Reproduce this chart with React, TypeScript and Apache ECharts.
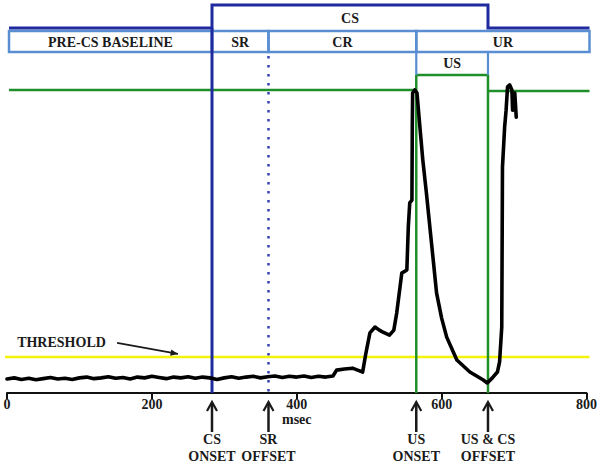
import React, { useEffect, useRef } from 'react';
import * as echarts from 'echarts';

// ---- data ----
const xTicks = [0, 200, 400, 600, 800];
const csOnset = 283;
const srOffset = 361;
const usOnset = 565;
const usOffset = 664;
const thresholdLevel = 9.3;
const ceilingLevel = 78.1;

const phaseLabels = ['PRE-CS BASELINE', 'SR', 'CR', 'UR'];
const phaseBounds = [0, csOnset, srOffset, usOnset, 800];

const eventTimes = [csOnset, srOffset, usOnset, usOffset];
const eventTop = ['CS', 'SR', 'US', 'US & CS'];
const eventBottom = ['ONSET', 'OFFSET', 'ONSET', 'OFFSET'];

const signalTime = [
  0, 10, 20, 30, 40, 50, 60, 70, 80, 90,
  100, 110, 120, 130, 140, 150, 160, 170, 180, 190,
  200, 210, 220, 230, 240, 250, 260, 270, 280, 290,
  300, 310, 320, 330, 340, 350, 360, 370, 380, 390,
  400, 410, 420, 430, 440,
  450, 455, 466, 477, 484, 491, 495, 501, 508, 514, 519, 528, 534, 538, 545, 552, 554, 556, 559, 559.5,
  560, 563, 566, 570, 574, 579, 586, 593, 600, 607, 621, 639, 657, 663, 670, 677, 680, 683, 683.5, 684,
  687, 689, 691, 694, 697, 698, 701, 703,
];
const signalValue = [
  3.6, 3.9, 3.5, 3.8, 3.4, 3.7, 4.0, 3.6, 3.8, 3.5,
  3.9, 4.1, 3.7, 3.9, 4.2, 3.8, 4.0, 3.6, 4.1, 3.9,
  4.3, 4.0, 3.7, 4.1, 3.9, 4.2, 3.8, 4.1, 3.9, 3.5,
  3.9, 4.2, 3.8, 4.1, 4.3, 3.9, 4.2, 4.4, 4.0, 4.3,
  4.1, 4.4, 4.0, 4.3, 4.1,
  4.4, 5.9, 6.2, 6.4, 5.9, 5.4, 9.8, 15.5, 17.0, 16.2, 15.7, 14.9, 16.2, 20.6, 30.9, 31.7, 42.8, 49.0, 49.7, 68.6,
  77.3, 78.1, 77.3, 68.6, 60.1, 51.5, 38.7, 25.8, 19.3, 14.4, 8.5, 5.4, 3.4, 2.6, 3.9, 5.4, 8.0, 17.0, 36.9, 58.2,
  68.6, 72.9, 78.9, 79.4, 78.1, 72.9, 77.3, 71.1,
];

const FONT = "'Liberation Serif', 'Times New Roman', serif";
const NAVY = '#1e2a9e';
const LIGHT = '#5a8ed2';
const GREEN = '#1f8f2a';
const YELLOW = '#f3f30c';
const TEXT = '#1a1a1a';

function renderFrame(params: any, api: any) {
  const X = (v: number) => api.coord([v, 0])[0];
  const Y = (v: number) => api.coord([0, v])[1];
  const axisY = Y(0);
  const top = Y(100);
  const row1 = top + 23;
  const row2Top = top + 26;
  const row2Bot = top + 47;
  const usBot = top + 70;
  const x0 = X(0) + 2;
  const x1 = X(800) + 3;
  const xcs = X(csOnset);
  const xsr = X(srOffset);
  const xus = X(usOnset);
  const xoff = X(usOffset);
  const yc = Y(ceilingLevel);
  const yt = Y(thresholdLevel);
  const font = `bold 14px ${FONT}`;
  const ch: any[] = [];
  const line = (a: number, b: number, c: number, d: number, stroke: string, w: number, dash?: number[]) =>
    ch.push({ type: 'line', shape: { x1: a, y1: b, x2: c, y2: d }, style: { stroke, lineWidth: w, lineDash: dash } });
  const text = (t: string, x: number, y: number, align = 'center') =>
    ch.push({ type: 'text', style: { text: t, x, y, font, fill: TEXT, textAlign: align, textVerticalAlign: 'middle' } });

  // threshold
  line(X(0) - 2, yt, x1, yt, YELLOW, 2.5);
  // green ceiling and US lines
  line(x0, yc, xus, yc, GREEN, 2.5);
  line(xoff, yc + 1, x1, yc + 1, GREEN, 2.5);
  line(xus, usBot, xus, axisY, GREEN, 2.5);
  line(xoff, usBot, xoff, axisY, GREEN, 2.5);
  line(xus, usBot, xoff, usBot, GREEN, 2.5);
  // US box sides
  line(xus, row2Bot, xus, usBot, LIGHT, 2.2);
  line(xoff, row2Bot, xoff, usBot, LIGHT, 2.2);
  text('US', (xus + xoff) / 2, top + 58);
  // phase row
  for (let i = 0; i < phaseLabels.length; i++) {
    const a = i === 0 ? x0 : X(phaseBounds[i]);
    const b = i === phaseLabels.length - 1 ? x1 : X(phaseBounds[i + 1]);
    ch.push({ type: 'rect', shape: { x: a, y: row2Top, width: b - a, height: row2Bot - row2Top }, style: { stroke: LIGHT, fill: 'none', lineWidth: 2.5 } });
    text(phaseLabels[i], (a + b) / 2, (row2Top + row2Bot) / 2 + 1);
  }
  // SR dotted
  line(xsr, row2Bot + 4, xsr, axisY, '#3442b4', 2.5, [2.5, 6.5]);
  // CS outline
  ch.push({ type: 'polyline', shape: { points: [[x0, row1], [xcs, row1], [xcs, top], [xoff, top], [xoff, row1], [x1, row1]] }, style: { stroke: NAVY, lineWidth: 3, fill: 'none' } });
  line(xcs, row1, xcs, axisY, NAVY, 3);
  text('CS', (xcs + xoff) / 2, top + 13);
  // threshold label + arrow
  text('THRESHOLD', X(14), yt - 14, 'left');
  const ax1 = X(152), ay1 = yt - 14, ax2 = X(236), ay2 = yt - 3;
  line(ax1, ay1, ax2, ay2, TEXT, 1.8);
  const ang = Math.atan2(ay2 - ay1, ax2 - ax1);
  const hl = 8;
  ch.push({ type: 'polygon', shape: { points: [[ax2, ay2], [ax2 - hl * Math.cos(ang - 0.4), ay2 - hl * Math.sin(ang - 0.4)], [ax2 - hl * Math.cos(ang + 0.4), ay2 - hl * Math.sin(ang + 0.4)]] }, style: { fill: TEXT } });
  // event arrows
  for (let i = 0; i < eventTimes.length; i++) {
    const ex = X(eventTimes[i]);
    line(ex, axisY + 10, ex, axisY + 39, TEXT, 2.5);
    ch.push({ type: 'polyline', shape: { points: [[ex - 5, axisY + 18], [ex, axisY + 9], [ex + 5, axisY + 18]] }, style: { stroke: TEXT, lineWidth: 2.2, fill: 'none' } });
    text(eventTop[i], ex, axisY + 46);
    text(eventBottom[i], ex, axisY + 63);
  }
  return { type: 'group', children: ch };
}

export default function App() {
  const ref = useRef<HTMLDivElement>(null);
  useEffect(() => {
    const chart = echarts.init(ref.current!, null, { renderer: 'svg' });
    const option: any = {
      animation: false,
      backgroundColor: '#ffffff',
      grid: { left: 7, right: 13, top: 5, bottom: 71, containLabel: false },
      xAxis: {
        type: 'value',
        min: 0,
        max: 800,
        interval: 200,
        axisLine: { lineStyle: { color: '#111', width: 2 } },
        axisTick: { show: true, length: 6, lineStyle: { color: '#111', width: 2 } },
        splitLine: { show: false },
        axisLabel: {
          margin: 4,
          color: TEXT,
          fontSize: 14,
          fontWeight: 'bold',
          fontFamily: FONT,
          formatter: (v: number) => (xTicks.indexOf(v) < 0 ? '' : v === 400 ? '{a|400}\n{m|msec}' : '{a|' + v + '}'),
          rich: {
            a: { fontSize: 14, fontWeight: 'bold', fontFamily: FONT, color: TEXT, lineHeight: 15 },
            m: { fontSize: 14, fontWeight: 'bold', fontFamily: FONT, color: TEXT, lineHeight: 15 },
          },
        },
      },
      yAxis: { type: 'value', min: 0, max: 100, show: false },
      series: [
        {
          type: 'custom',
          silent: true,
          z: 1,
          data: [[0, 0]],
          renderItem: renderFrame,
        },
        {
          type: 'line',
          z: 5,
          silent: true,
          symbol: 'none',
          data: signalTime.map((t, i) => [t, signalValue[i]]),
          lineStyle: { color: '#000', width: 3.6, join: 'round', cap: 'round' },
        },
      ],
    };
    chart.setOption(option);
    return () => chart.dispose();
  }, []);
  return <div ref={ref} style={{ position: 'fixed', left: 0, top: 0, width: 600, height: 464 }} />;
}
